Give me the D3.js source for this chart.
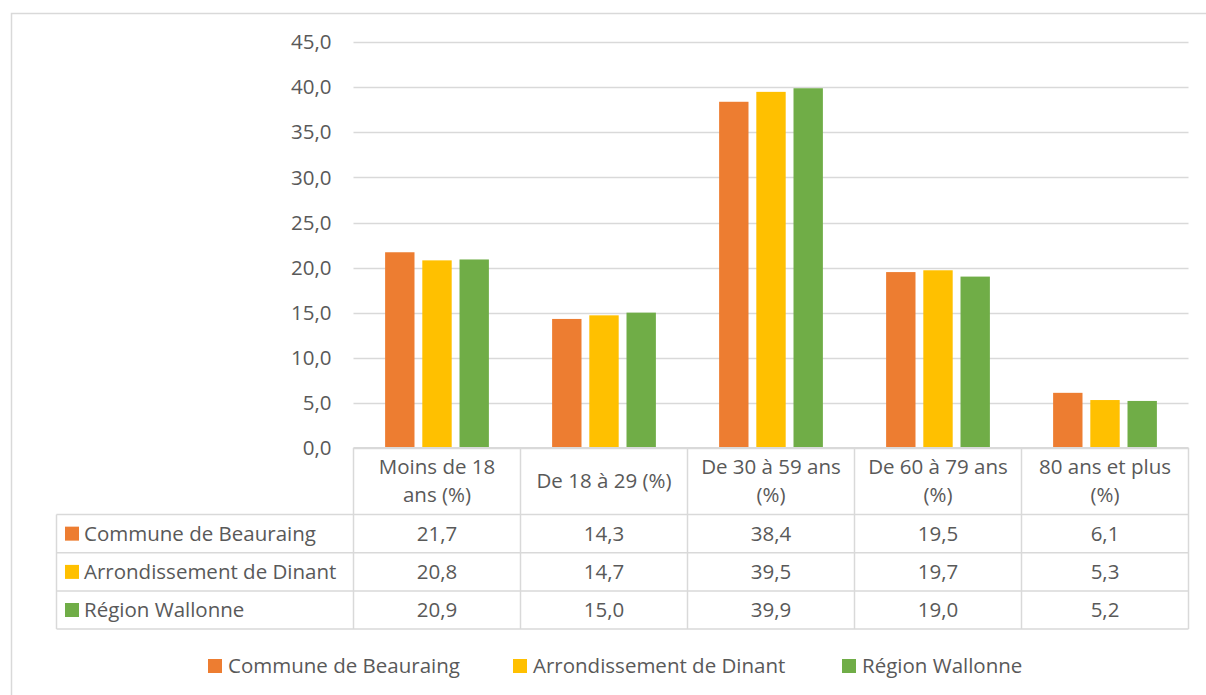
<!DOCTYPE html>
<html>
<head>
<meta charset="utf-8">
<script src="https://cdn.jsdelivr.net/npm/d3@7"></script>
<style>
  body { margin: 0; background: #fff; }
  text { font-family: "Open Sans", sans-serif; fill: #595959; }
</style>
</head>
<body>
<div id="chart"></div>
<script>
var categories = ["Moins de 18 ans (%)", "De 18 à 29 (%)", "De 30 à 59 ans (%)", "De 60 à 79 ans (%)", "80 ans et plus (%)"];
var seriesNames = ["Commune de Beauraing", "Arrondissement de Dinant", "Région Wallonne"];
var beauraing = [21.7, 14.3, 38.4, 19.5, 6.1];
var dinant = [20.8, 14.7, 39.5, 19.7, 5.3];
var wallonie = [20.9, 15.0, 39.9, 19.0, 5.2];
var yTicks = [0, 5, 10, 15, 20, 25, 30, 35, 40, 45];
var colors = ["#ED7D31", "#FFC000", "#70AD47"];

var seriesValues = [beauraing, dinant, wallonie];
var fontSize = 20.5;

var width = 1206, height = 695;
var plot = { left: 353.5, right: 1188.5, top: 42.3, bottom: 447.8 };
var tableLeft = 56.5;
var rowEdges = [447.8, 514.5, 552.8, 591, 629];

var svg = d3.select("#chart").append("svg")
    .attr("width", width)
    .attr("height", height);

// outer chart frame (runs off the right and bottom of the picture)
svg.append("rect")
    .attr("x", 11.5).attr("y", 13.5)
    .attr("width", 1220).attr("height", 720)
    .attr("fill", "none")
    .attr("stroke", "#d9d9d9")
    .attr("stroke-width", 1.5);

var x0 = d3.scaleBand()
    .domain(categories)
    .range([plot.left, plot.right]);

var x1 = d3.scaleBand()
    .domain(seriesNames)
    .range([0, x0.bandwidth()])
    .paddingInner(0.21)
    .paddingOuter(0.85);

var y = d3.scaleLinear()
    .domain([0, 45])
    .range([plot.bottom, plot.top]);

// gridlines
svg.append("g")
    .selectAll("line")
    .data(yTicks)
    .enter().append("line")
    .attr("x1", plot.left)
    .attr("x2", plot.right)
    .attr("y1", function (d) { return Math.round(y(d)) + 0.5; })
    .attr("y2", function (d) { return Math.round(y(d)) + 0.5; })
    .attr("stroke", "#d9d9d9")
    .attr("stroke-width", 1.3);

// y axis labels
var fmt = function (d) { return d3.format(".1f")(d).replace(".", ","); };
var yAxis = svg.append("g")
    .attr("transform", "translate(" + (plot.left - 22) + ",0)")
    .call(d3.axisLeft(y).tickValues(yTicks).tickFormat(fmt).tickSize(0).tickPadding(0));
yAxis.select(".domain").remove();
yAxis.selectAll("text")
    .attr("fill", "#595959")
    .style("font-family", "'Open Sans', sans-serif")
    .style("font-size", fontSize + "px");

// bars
var groups = svg.append("g")
    .selectAll("g")
    .data(categories)
    .enter().append("g")
    .attr("transform", function (d) { return "translate(" + x0(d) + ",0)"; });

groups.selectAll("rect")
    .data(function (d, i) {
        return seriesNames.map(function (s, j) { return { s: s, v: seriesValues[j][i], j: j }; });
    })
    .enter().append("rect")
    .attr("x", function (d) { return x1(d.s); })
    .attr("width", x1.bandwidth())
    .attr("y", function (d) { return y(d.v); })
    .attr("height", function (d) { return y(0) - y(d.v); })
    .attr("fill", function (d) { return colors[d.j]; });

// data table grid
var grid = svg.append("g").attr("stroke", "#d9d9d9").attr("stroke-width", 1.5);
rowEdges.forEach(function (r, i) {
    grid.append("line")
        .attr("x1", i == 0 ? plot.left : tableLeft).attr("x2", plot.right)
        .attr("y1", r).attr("y2", r);
});
grid.append("line")
    .attr("x1", tableLeft).attr("x2", tableLeft)
    .attr("y1", rowEdges[1]).attr("y2", rowEdges[4]);
categories.forEach(function (c) {
    grid.append("line")
        .attr("x1", x0(c)).attr("x2", x0(c))
        .attr("y1", rowEdges[0]).attr("y2", rowEdges[4]);
});
grid.append("line")
    .attr("x1", plot.right).attr("x2", plot.right)
    .attr("y1", rowEdges[0]).attr("y2", rowEdges[4]);

// header cells, wrapped to the column width
function wrapWords(label, maxW) {
    var probe = svg.append("text").style("font-size", fontSize + "px");
    var words = label.split(" "), lines = [], line = [];
    words.forEach(function (w) {
        line.push(w);
        probe.text(line.join(" "));
        if (probe.node().getComputedTextLength() > maxW && line.length > 1) {
            line.pop();
            lines.push(line.join(" "));
            line = [w];
        }
    });
    lines.push(line.join(" "));
    probe.remove();
    return lines;
}

var headerMid = (rowEdges[0] + rowEdges[1]) / 2;
categories.forEach(function (c) {
    var lines = wrapWords(c, 150);
    var t = svg.append("text")
        .attr("text-anchor", "middle")
        .style("font-size", fontSize + "px");
    lines.forEach(function (l, k) {
        t.append("tspan")
            .attr("x", x0(c) + x0.bandwidth() / 2)
            .attr("y", headerMid + (k - (lines.length - 1) / 2) * 28)
            .attr("dy", "0.35em")
            .text(l);
    });
});

// table rows
seriesNames.forEach(function (s, j) {
    var mid = (rowEdges[j + 1] + rowEdges[j + 2]) / 2;
    svg.append("rect")
        .attr("x", 65).attr("y", mid - 7)
        .attr("width", 14).attr("height", 14)
        .attr("fill", colors[j]);
    svg.append("text")
        .attr("x", 84).attr("y", mid).attr("dy", "0.35em")
        .style("font-size", fontSize + "px")
        .text(s);
    categories.forEach(function (c, i) {
        svg.append("text")
            .attr("x", x0(c) + x0.bandwidth() / 2)
            .attr("y", mid).attr("dy", "0.35em")
            .attr("text-anchor", "middle")
            .style("font-size", fontSize + "px")
            .text(fmt(seriesValues[j][i]));
    });
});

// legend
var legendX = [208, 513, 842];
var legendY = 666;
seriesNames.forEach(function (s, j) {
    svg.append("rect")
        .attr("x", legendX[j]).attr("y", legendY - 7)
        .attr("width", 14).attr("height", 14)
        .attr("fill", colors[j]);
    svg.append("text")
        .attr("x", legendX[j] + 20).attr("y", legendY).attr("dy", "0.35em")
        .style("font-size", fontSize + "px")
        .text(s);
});
</script>
</body>
</html>
